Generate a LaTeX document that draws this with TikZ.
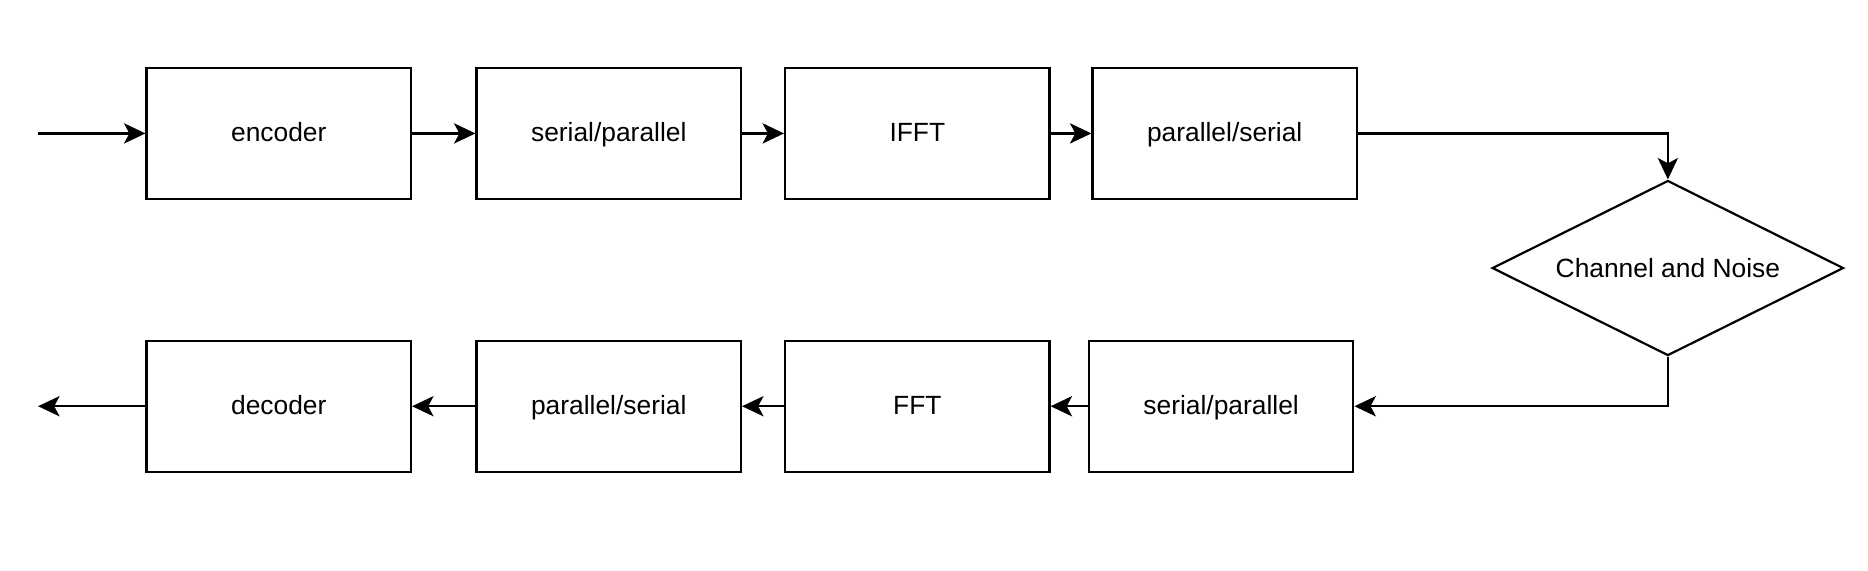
\documentclass[tikz,border=0pt]{standalone}
\usepackage{fontspec}
\setmainfont{Liberation Sans}
\usetikzlibrary{shapes.geometric,arrows.meta}
\begin{document}
\begin{tikzpicture}[x=0.02cm,y=-0.02cm,font=\fontsize{12.6}{15}\selectfont]
\tikzstyle{bloque}=[draw,line width=1.05pt,minimum width=4.44cm,minimum height=2.2cm,inner sep=0pt,text height=10.8pt,text depth=2.7pt]% cada caja del sistema
\tikzstyle{rombo}=[draw,diamond,aspect=2,line width=1.05pt,minimum width=5.9cm,minimum height=2.94cm,inner sep=0pt]% el canal
\tikzstyle{flecha}=[line width=1.05pt,-{Stealth[length=3.6mm,width=3.4mm,inset=0.9mm]}]% conexion entre bloques
\useasboundingbox (0,0) rectangle (1568,479);
% transmisor
\coordinate (entrada) at (32,112);
\node[bloque] (enc) at (234,112) {encoder};
\node[bloque] (sp1) at (511,112) {serial/parallel};
\node[bloque] (ifft) at (770,112) {IFFT};
\node[bloque] (ps1) at (1028,112) {parallel/serial};
% canal
\node[rombo] (canal) at (1400,225) {Channel and Noise};
% receptor
\node[bloque] (sp2) at (1025,341) {serial/parallel};
\node[bloque] (fft) at (770,341) {FFT};
\node[bloque] (ps2) at (511,341) {parallel/serial};
\node[bloque] (dec) at (234,341) {decoder};
\coordinate (salida) at (32,341);
\draw[flecha] (entrada) -- (enc);
\draw[flecha] (enc) -- (sp1);
\draw[flecha] (sp1) -- (ifft);
\draw[flecha] (ifft) -- (ps1);
\draw[flecha] (ps1.east) -| (canal.north);
\draw[flecha] (canal.south) |- (sp2.east);
\draw[flecha] (sp2) -- (fft);
\draw[flecha] (fft) -- (ps2);
\draw[flecha] (ps2) -- (dec);
\draw[flecha] (dec) -- (salida);
\end{tikzpicture}
\end{document}
